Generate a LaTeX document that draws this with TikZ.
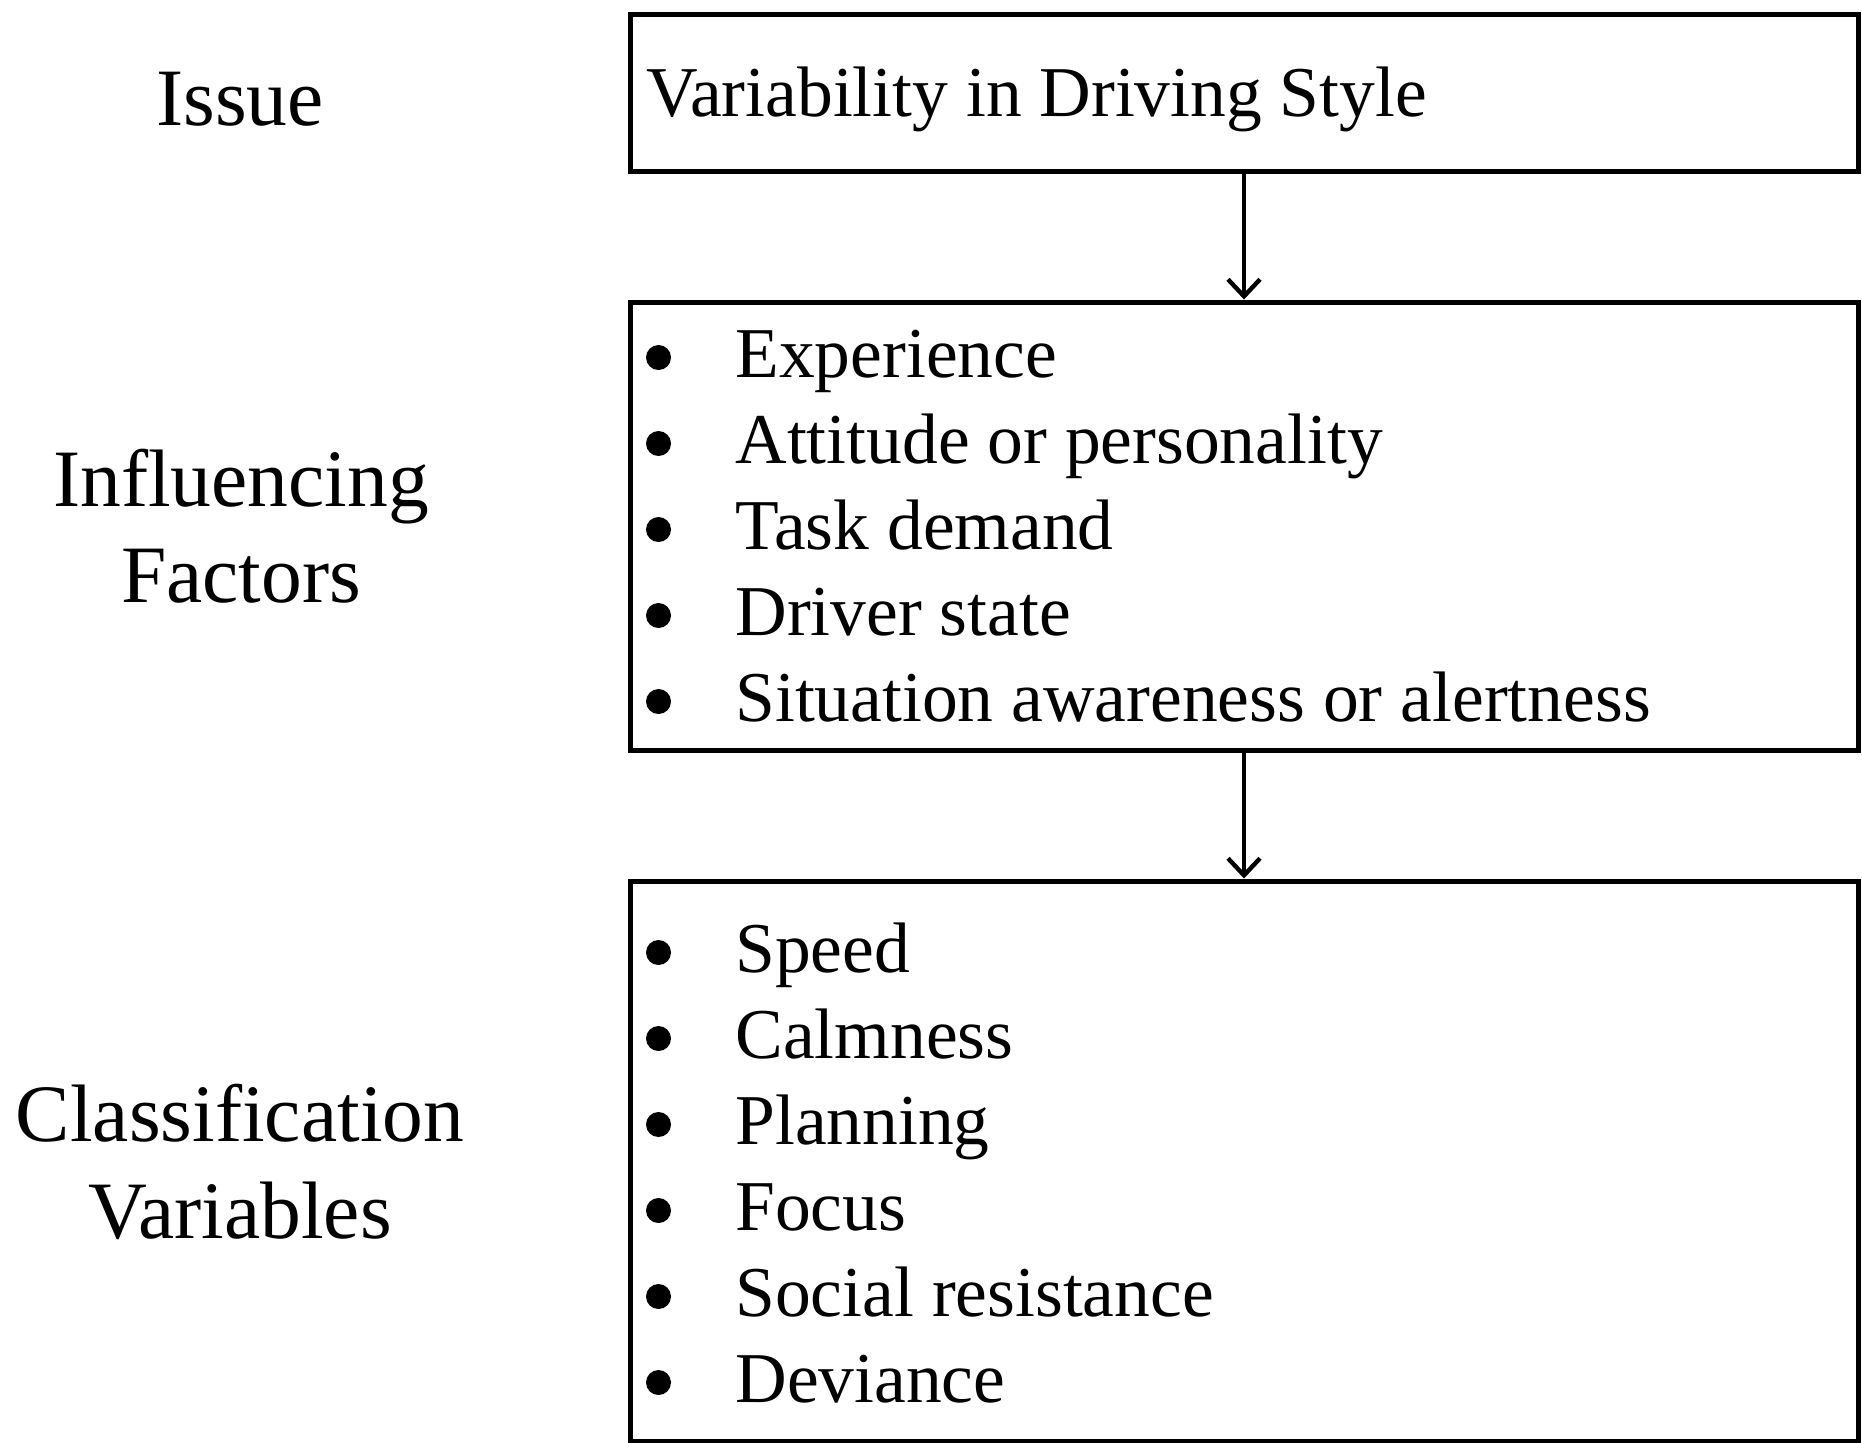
\documentclass[tikz,border=0pt]{standalone}
\usepackage{fontspec}
\setmainfont{Liberation Serif}
\usetikzlibrary{arrows.meta}
\begin{document}
\begin{tikzpicture}[x=0.5pt,y=-0.5pt,
  box/.style={draw=black,line width=2.5pt,inner sep=0pt,fill=none},
  lbl/.style={anchor=base,inner sep=0pt,font=\fontsize{40.75pt}{48pt}\selectfont},
  txt/.style={anchor=base west,inner sep=0pt,font=\fontsize{35.75pt}{43pt}\selectfont},
  dot/.style={circle,fill=black,draw=none,inner sep=0pt,minimum size=12.5pt},
  arr/.style={line width=2.2pt,-{Straight Barb[length=8.5pt,width=16pt,line width=2.2pt]}}]
\useasboundingbox (0,0) rectangle (1862,1442);
\fill[white] (0,0) rectangle (1862,1442);
% left labels
\node[lbl] (issue) at (240,125) {Issue};
\node[lbl] (inflA) at (241,506) {Influencing};
\node[lbl] (inflB) at (241,602) {Factors};
\node[lbl] (clsA) at (240,1141) {Classification};
\node[lbl] (clsB) at (240,1238) {Variables};
% boxes
\node[box,minimum width=614pt,minimum height=78.5pt] (b1) at (1244,92.5) {};
\node[box,minimum width=614pt,minimum height=224pt] (b2) at (1244,526) {};
\node[box,minimum width=614pt,minimum height=280pt] (b3) at (1244,1161) {};
% box 1 text
\node[txt] (t1) at (646,116) {Variability in Driving Style};
% box 2 items
\foreach \i/\t in {0/Experience,1/Attitude or personality,2/Task demand,3/Driver state,4/Situation awareness or alertness}{
  \node[dot] (bA\i) at (658.5,357.5+86*\i) {};
  \node[txt] (iA\i) at (735,377+86*\i) {\t};
}
% box 3 items
\foreach \i/\t in {0/Speed,1/Calmness,2/Planning,3/Focus,4/Social resistance,5/Deviance}{
  \node[dot] (bB\i) at (658.5,952.5+86*\i) {};
  \node[txt] (iB\i) at (735,972+86*\i) {\t};
}
% arrows
\draw[arr] (b1.south) -- (b2.north);
\draw[arr] (b2.south) -- (b3.north);
\end{tikzpicture}
\end{document}
